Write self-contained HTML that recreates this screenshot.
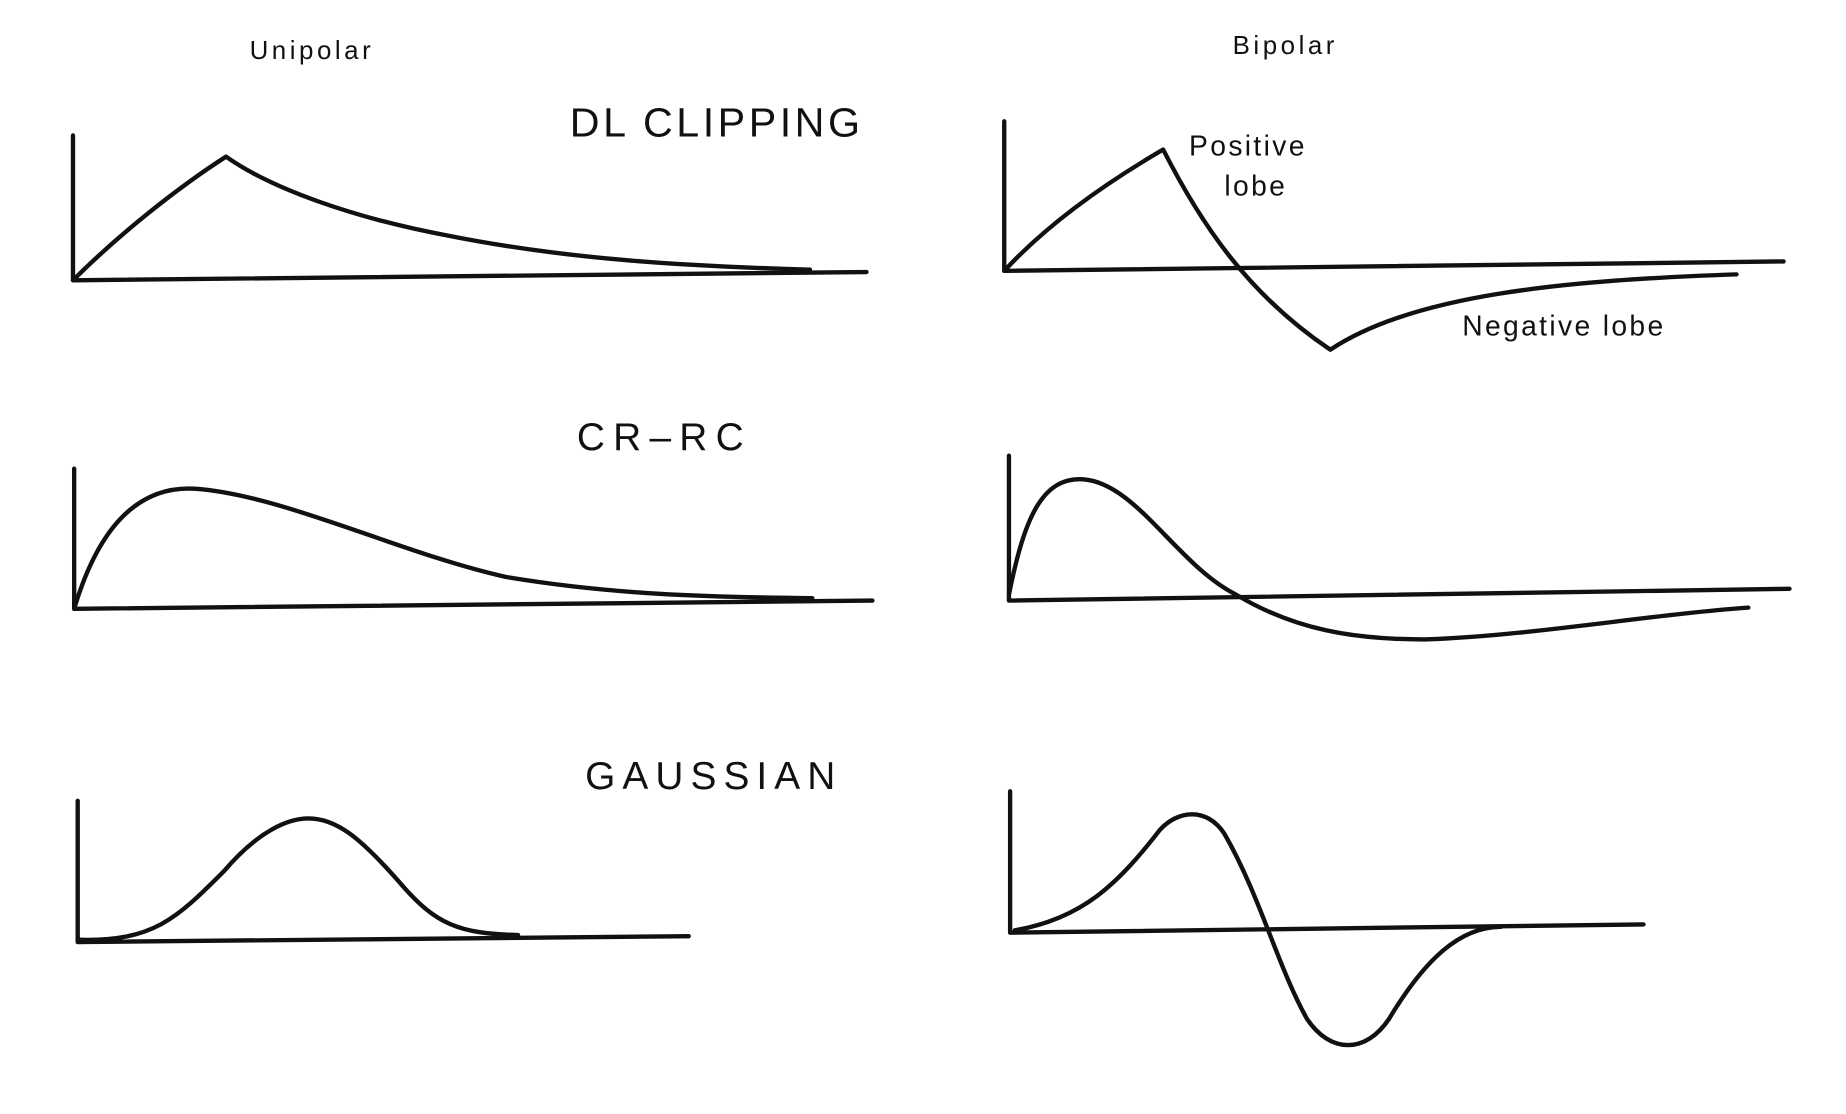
<!DOCTYPE html>
<html><head><meta charset="utf-8"><style>
html,body{margin:0;padding:0;background:#fff;}
svg{display:block;}
text{font-family:"Liberation Sans",sans-serif;fill:#111;}
</style></head><body>
<svg width="1846" height="1114" viewBox="0 0 1568 946" preserveAspectRatio="none" xmlns="http://www.w3.org/2000/svg">
<g fill="none" stroke="#111" stroke-width="3.7" stroke-linecap="round" stroke-linejoin="round">
<path d="M62 115 L62 238 L736 231"/>
<path d="M62 238 C100 200 150 160 192 133 C230 160 300 185 380 200 C480 220 580 226 688 229"/>
<path d="M853 103 L853 230 L1515 222"/>
<path d="M853 230 C890 190 940 155 988 127 C1020 190 1060 250 1130 297 C1200 250 1330 238 1475 233"/>
<path d="M63 398 L63 517 L741 510"/>
<path d="M63 517 C80 460 110 412 165 415 C240 420 340 470 430 490 C520 505 600 507 690 508"/>
<path d="M857 387 L857 510 L1520 500"/>
<path d="M857 505 C870 440 885 405 920 407 C965 410 1000 480 1050 505 C1100 535 1150 543 1210 543 C1300 540 1400 522 1485 516"/>
<path d="M66 680 L66 800 L585 795"/>
<path d="M66 798 C130 800 150 780 190 740 C220 705 245 695 262 695 C285 695 305 710 340 750 C370 785 390 793 440 794"/>
<path d="M858 672 L858 792 L1396 785"/>
<path d="M862 790 C920 780 950 750 985 705 C1000 688 1025 685 1040 708 C1070 760 1085 820 1110 865 C1130 895 1160 895 1180 865 C1210 815 1240 787 1275 787"/>
</g>
<g fill="#111">
<text x="212" y="50" font-size="22" letter-spacing="3">Unipolar</text>
<text x="1047" y="46" font-size="22" letter-spacing="3">Bipolar</text>
<text x="484" y="116" font-size="35" letter-spacing="3">DL CLIPPING</text>
<text x="490" y="382" font-size="33" letter-spacing="7">CR–RC</text>
<text x="497" y="670" font-size="33" letter-spacing="6">GAUSSIAN</text>
<text x="1010" y="132" font-size="24" letter-spacing="2">Positive</text>
<text x="1040" y="166" font-size="24" letter-spacing="2">lobe</text>
<text x="1242" y="285" font-size="24" letter-spacing="2">Negative  lobe</text>
</g>
</svg>
</body></html>
